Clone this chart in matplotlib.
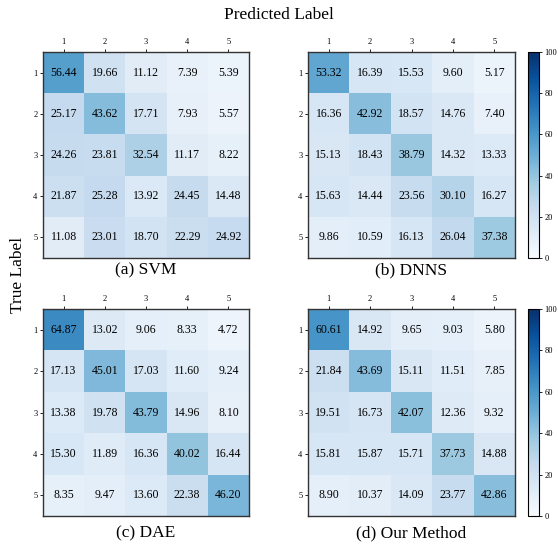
import numpy as np
import matplotlib
matplotlib.use("Agg")
import matplotlib.pyplot as plt

plt.rcParams['font.family'] = ['Liberation Serif', 'DejaVu Serif']

labels = ['1', '2', '3', '4', '5']

svm = [[56.44, 19.66, 11.12, 7.39, 5.39],
       [25.17, 43.62, 17.71, 7.93, 5.57],
       [24.26, 23.81, 32.54, 11.17, 8.22],
       [21.87, 25.28, 13.92, 24.45, 14.48],
       [11.08, 23.01, 18.70, 22.29, 24.92]]

dnns = [[53.32, 16.39, 15.53, 9.60, 5.17],
        [16.36, 42.92, 18.57, 14.76, 7.40],
        [15.13, 18.43, 38.79, 14.32, 13.33],
        [15.63, 14.44, 23.56, 30.10, 16.27],
        [9.86, 10.59, 16.13, 26.04, 37.38]]

dae = [[64.87, 13.02, 9.06, 8.33, 4.72],
       [17.13, 45.01, 17.03, 11.60, 9.24],
       [13.38, 19.78, 43.79, 14.96, 8.10],
       [15.30, 11.89, 16.36, 40.02, 16.44],
       [8.35, 9.47, 13.60, 22.38, 46.20]]

ours = [[60.61, 14.92, 9.65, 9.03, 5.80],
        [21.84, 43.69, 15.11, 11.51, 7.85],
        [19.51, 16.73, 42.07, 12.36, 9.32],
        [15.81, 15.87, 15.71, 37.73, 14.88],
        [8.90, 10.37, 14.09, 23.77, 42.86]]

captions = ['(a) SVM', '(b) DNNS', '(c) DAE', '(d) Our Method']
cbar_ticks = [0, 20, 40, 60, 80, 100]

W, H = 558, 546
fig = plt.figure(figsize=(W / 100, H / 100), dpi=100)


def px(left, top, right, bottom):
    return [left / W, 1 - bottom / H, (right - left) / W, (bottom - top) / H]


boxes = [px(43, 52, 249, 258), px(308, 52, 515, 258),
         px(43, 309, 249, 516), px(308, 309, 515, 516)]
caption_y = [270, 270, 533, 533]
matrices = [svm, dnns, dae, ours]

images = []
for mat, box, cap, cy in zip(matrices, boxes, captions, caption_y):
    ax = fig.add_axes(box)
    data = np.array(mat)
    im = ax.imshow(data, cmap='Blues', vmin=0, vmax=100, aspect='auto')
    images.append(im)
    for i in range(data.shape[0]):
        for j in range(data.shape[1]):
            ax.text(j, i, f"{data[i, j]:.2f}", ha='center', va='center',
                    fontsize=8.5, color='black')
    ax.set_xticks(range(len(labels)))
    ax.set_yticks(range(len(labels)))
    ax.set_xticklabels(labels, fontsize=6)
    ax.set_yticklabels(labels, fontsize=6)
    ax.xaxis.tick_top()
    ax.tick_params(length=2.5, width=0.6, pad=1.5)
    for s in ax.spines.values():
        s.set_linewidth(1.0)
        s.set_color('#333333')
    cx = (box[0] + box[2] / 2)
    fig.text(cx, 1 - cy / H, cap, ha='center', va='center', fontsize=12.5)

for idx, (top, bottom) in enumerate([(52, 258), (309, 516)]):
    cax = fig.add_axes(px(528, top, 539, bottom))
    cb = fig.colorbar(images[idx * 2 + 1], cax=cax, ticks=cbar_ticks)
    cb.ax.tick_params(labelsize=6, length=2.5, width=0.6, pad=1.5)
    cb.outline.set_linewidth(0.8)

fig.text(279 / W, 1 - 15 / H, 'Predicted Label', ha='center', va='center', fontsize=12.5)
fig.text(18 / W, 1 - 275 / H, 'True Label', ha='center', va='center',
         rotation=90, fontsize=12.5)

fig.savefig('out.png', dpi=100)
